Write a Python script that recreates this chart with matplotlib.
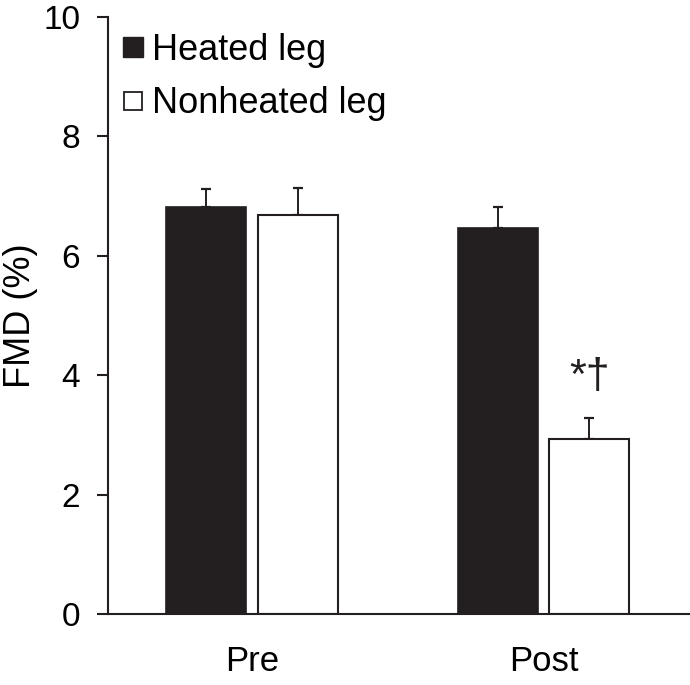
import matplotlib.pyplot as plt
import numpy as np
from matplotlib.lines import Line2D

plt.rcParams['font.family'] = ['Liberation Sans', 'DejaVu Sans']

groups = ['Pre', 'Post']
series = ['Heated leg', 'Nonheated leg']
heated = [6.82, 6.47]
heated_err = [0.30, 0.35]
nonheated = [6.68, 2.93]
nonheated_err = [0.46, 0.35]
marks = ['', '*\u2020']

fig = plt.figure(figsize=(6.9, 6.85), dpi=100)
ax = fig.add_axes([0.1565, 0.1036, 0.8435, 0.8716])

x = np.arange(len(groups))
w = 0.275
off = 0.157
dark = '#231f20'

ax.bar(x - off, heated, w, color=dark, edgecolor=dark, linewidth=1.2, zorder=2)
ax.bar(x + off, nonheated, w, color='white', edgecolor=dark, linewidth=1.5, zorder=2)
ax.errorbar(x - off, heated, yerr=[np.zeros(2), heated_err], fmt='none', ecolor=dark,
            elinewidth=1.4, capsize=3.3, capthick=1.6, zorder=1)
ax.errorbar(x + off, nonheated, yerr=[np.zeros(2), nonheated_err], fmt='none', ecolor=dark,
            elinewidth=1.4, capsize=3.3, capthick=1.6, zorder=1)

# significance marks above the nonheated bar
for xi, v, e, m in zip(x, nonheated, nonheated_err, marks):
    if m:
        ax.text(xi + off, v + e + 0.5, m, ha='center', va='baseline', fontsize=31, color=dark)

ax.set_xlim(-0.494, 1.503)
ax.set_ylim(0, 10)
ax.set_yticks(np.arange(0, 11, 2))
ax.set_xticks(x)
ax.set_xticklabels(groups)
ax.tick_params(axis='x', length=0, pad=22, labelsize=25)
ax.tick_params(axis='y', length=8, width=1.5, pad=12, labelsize=24, color=dark)
ax.set_ylabel('FMD (%)', fontsize=26)
ax.yaxis.set_label_coords(-0.12, 0.5)
for s in ['top', 'right']:
    ax.spines[s].set_visible(False)
for s in ['left', 'bottom']:
    ax.spines[s].set_linewidth(1.5)
    ax.spines[s].set_color(dark)

handles = [Line2D([], [], ls='none', marker='s', markersize=14, markerfacecolor=dark,
                  markeredgecolor=dark),
           Line2D([], [], ls='none', marker='s', markersize=13.5, markerfacecolor='white',
                  markeredgecolor=dark, markeredgewidth=1.3)]
ax.legend(handles, series, loc='upper left', bbox_to_anchor=(-0.023, 1.016), frameon=False,
          fontsize=26, handlelength=0.7, handletextpad=0.2, labelspacing=0.52,
          borderaxespad=0.3)

fig.savefig('out.png', dpi=100)
